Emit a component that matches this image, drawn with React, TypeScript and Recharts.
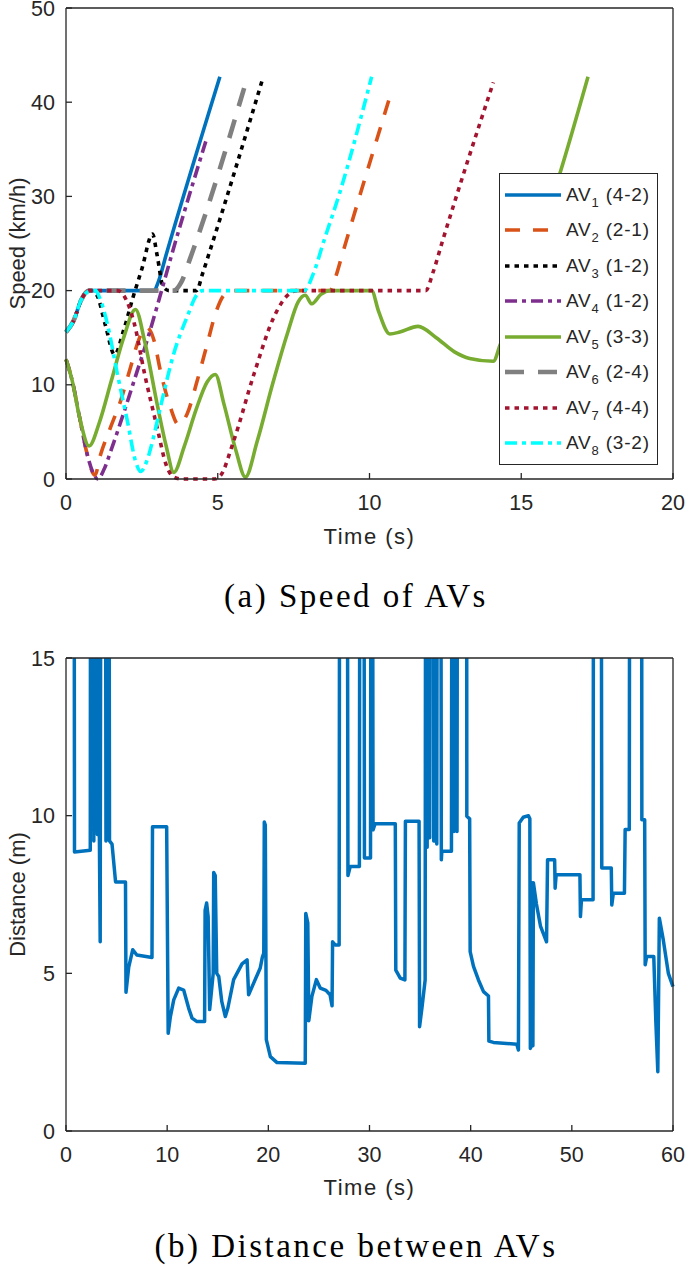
import { LineChart, Line, XAxis, YAxis, Legend, Label } from 'recharts';

// (a) speed of each AV, [time s, speed km/h]
const av1 = [[0, 15.6], [0.25, 16.8], [0.5, 19], [0.75, 20], [2.9, 20], [3.05, 21], [3.3, 23.8], [5.07, 42.7]];
const av2 = [[0, 12.7], [0.2, 10.5], [0.45, 6.5], [0.7, 2.6], [0.95, 0.4], [1.14, 2.6], [1.47, 5.5], [1.8, 8.3], [2.13, 11.9], [2.4, 14.8], [2.65, 16.1], [2.9, 14.7], [3.11, 11.5], [3.44, 7.6], [3.7, 5.8], [3.99, 6.9], [4.32, 10.4], [4.65, 14.3], [4.92, 17.5], [5.2, 19.5], [5.5, 20], [8.7, 20], [8.9, 21.6], [9.1, 23.8], [10.73, 41.2]];
const av3 = [[0, 15.6], [0.25, 16.8], [0.5, 19], [0.75, 20], [1.0, 19.6], [1.3, 16.3], [1.6, 13.2], [1.9, 15.8], [2.2, 19.2], [2.5, 22.3], [2.85, 26], [3.0, 23.8], [3.2, 20.4], [3.4, 20], [4.3, 20], [4.5, 21.8], [4.7, 23.8], [6.5, 42.7]];
const av4 = [[0, 12.7], [0.2, 10.5], [0.45, 6.5], [0.7, 2.6], [0.9, 0.6], [1.05, 0], [1.25, 1], [1.5, 3.2], [1.9, 7], [2.35, 11.5], [2.7, 15], [3.0, 18.3], [3.5, 24.0], [4.65, 36.3]];
const av5 = [[0, 12.7], [0.2, 10.5], [0.45, 6.5], [0.76, 3.5], [1.1, 6], [1.5, 10.5], [1.9, 15], [2.29, 18], [2.6, 14.5], [3.0, 8], [3.3, 3.5], [3.55, 0.7], [3.9, 3.5], [4.3, 7.5], [4.65, 10.3], [4.92, 11.1], [5.2, 8], [5.6, 3], [5.91, 0.2], [6.3, 4], [6.8, 10], [7.3, 15.5], [7.65, 18.8], [7.88, 19.5], [8.1, 18.6], [8.4, 19.6], [8.7, 20], [10.07, 20], [10.3, 17.8], [10.67, 15.4], [11.0, 15.6], [11.6, 16.2], [12.2, 15], [12.8, 13.5], [13.3, 12.8], [14.08, 12.5], [14.3, 14.2], [16.27, 32.4], [17.2, 42.7]];
const av6 = [[0, 15.6], [0.25, 16.8], [0.5, 19], [0.75, 20], [3.55, 20], [3.8, 20.9], [4.1, 23.5], [5.98, 42.7]];
const av7 = [[0, 15.6], [0.25, 16.8], [0.5, 19], [0.75, 20], [1.7, 20], [1.9, 19.5], [2.25, 16.5], [2.6, 11], [3.0, 5.5], [3.3, 1.5], [3.55, 0.2], [3.8, 0], [4.9, 0], [5.1, 0.4], [5.5, 3.8], [6.2, 11.2], [6.85, 17.2], [7.3, 19.5], [7.6, 20], [11.85, 20], [12.1, 22], [12.4, 25.2], [14.08, 42.1]];
const av8 = [[0, 15.6], [0.25, 16.8], [0.5, 19], [0.75, 19.9], [0.98, 20], [1.1, 19.3], [1.36, 16.5], [1.69, 11.2], [2.02, 6.2], [2.3, 1.8], [2.46, 0.8], [2.65, 1.8], [2.85, 4], [3.11, 7.6], [3.55, 13.3], [3.99, 17.2], [4.3, 19.5], [4.5, 20], [7.85, 20], [8.15, 21.8], [8.5, 25.3], [9.03, 30.5], [10.07, 42.7]];

const avIds = ['1', '2', '3', '4', '5', '6', '7', '8'];
const avRoutes = ['(4-2)', '(2-1)', '(1-2)', '(1-2)', '(3-3)', '(2-4)', '(4-4)', '(3-2)'];
const speedSeries = [av1, av2, av3, av4, av5, av6, av7, av8];

// (b) distance between AVs, [time s, distance m]; values above 15 run off the top
const distance = [
  [0.8, 22], [0.84, 8.85], [2.4, 8.9], [2.43, 22], [2.72, 22], [2.75, 9.2], [2.8, 22], [3.05, 22], [3.1, 9.4], [3.25, 9.55],
  [3.3, 9.3], [3.38, 6.0], [3.45, 22], [3.9, 22], [3.95, 9.2], [4.05, 9.3], [4.1, 22], [4.25, 22], [4.3, 9.2], [4.55, 9.1],
  [4.9, 7.9], [5.88, 7.9], [5.93, 4.4], [6.2, 5.2], [6.6, 5.75], [7.0, 5.58], [8.5, 5.5], [8.55, 9.65], [9.95, 9.65], [10.1, 3.1],
  [10.32, 3.63], [10.65, 4.16], [11.14, 4.53], [11.63, 4.47], [12.13, 3.89], [12.46, 3.58], [12.95, 3.47], [13.7, 3.47], [13.75, 7.0], [13.9, 7.23],
  [14.05, 6.8], [14.2, 3.85], [14.4, 4.5], [14.55, 5.0], [14.6, 8.2], [14.75, 8.1], [14.9, 5.0], [15.1, 4.9], [15.4, 4.1], [15.75, 3.63],
  [16.0, 3.9], [16.57, 4.8], [17.4, 5.3], [17.9, 5.43], [18.05, 4.32], [18.55, 4.69], [19.2, 5.17], [19.4, 5.5], [19.55, 5.64], [19.6, 9.8],
  [19.7, 9.7], [19.8, 2.9], [20.2, 2.36], [20.86, 2.17], [23.65, 2.15], [23.7, 6.9], [23.9, 6.6], [24.0, 3.5], [24.3, 4.26], [24.75, 4.8],
  [25.14, 4.53], [25.7, 4.46], [26.1, 4.32], [26.3, 3.97], [26.35, 6.0], [26.6, 5.9], [27.0, 5.9], [27.05, 22], [27.8, 22], [27.87, 8.1],
  [28.1, 8.39], [29.0, 8.39], [29.05, 22], [29.45, 22], [29.5, 8.66], [30.1, 8.66], [30.15, 22], [30.3, 22], [30.35, 9.55], [30.55, 9.74],
  [32.55, 9.74], [32.6, 5.1], [33.04, 4.85], [33.5, 4.79], [33.55, 9.82], [34.9, 9.82], [34.95, 3.31], [35.2, 3.95], [35.5, 4.79], [35.55, 22],
  [35.65, 22], [35.7, 9.0], [35.75, 22], [35.9, 22], [35.95, 9.3], [36.0, 22], [36.3, 22], [36.35, 9.2], [36.4, 22], [36.6, 22],
  [36.65, 9.1], [36.7, 22], [37.05, 22], [37.1, 8.6], [37.15, 8.87], [38.1, 8.87], [38.15, 22], [38.3, 22], [38.35, 9.5], [38.4, 22],
  [38.6, 22], [38.65, 9.5], [38.7, 22], [39.6, 22], [39.62, 9.98], [39.9, 9.9], [39.95, 5.69], [40.28, 5.22], [40.77, 4.79], [41.27, 4.42],
  [41.76, 4.28], [41.8, 2.85], [42.25, 2.81], [44.56, 2.75], [44.72, 2.57], [44.8, 9.77], [45.2, 9.95], [45.71, 10.0], [45.85, 9.9], [45.9, 2.62],
  [46.0, 2.7], [46.05, 7.87], [46.1, 7.5], [46.15, 2.7], [46.2, 7.87], [46.5, 7.2], [46.9, 6.5], [47.5, 6.0], [47.6, 8.6], [48.3, 8.6],
  [48.35, 7.7], [48.45, 8.13], [50.8, 8.13], [50.85, 6.8], [50.95, 7.33], [52.1, 7.33], [52.15, 22], [52.9, 22], [52.96, 8.34], [53.9, 8.34],
  [53.95, 7.17], [54.1, 7.54], [55.2, 7.54], [55.27, 9.56], [55.68, 9.56], [55.72, 22], [56.9, 22], [56.92, 9.87], [57.2, 9.87], [57.25, 5.27],
  [57.4, 5.53], [58.1, 5.53], [58.3, 3.5], [58.5, 1.88], [58.65, 6.75], [59.04, 6.06], [59.54, 5.0], [60, 4.58],
];

const speedTicksX = [0, 5, 10, 15, 20];
const speedTicksY = [0, 10, 20, 30, 40, 50];
const distTicksX = [0, 10, 20, 30, 40, 50, 60];
const distTicksY = [0, 5, 10, 15];

// MATLAB-ish line styles for each AV
const lineStyles = [
  { color: '#0072BD', width: 3.6, dash: undefined },
  { color: '#D95319', width: 3.6, dash: '15 13' },
  { color: '#000000', width: 3.6, dash: '4.5 5' },
  { color: '#7E2F8E', width: 3.6, dash: '12 5 4 5' },
  { color: '#77AC30', width: 3.6, dash: undefined },
  { color: '#808080', width: 4.6, dash: '19 14' },
  { color: '#A2142F', width: 3.6, dash: '4.5 5' },
  { color: '#00FFFF', width: 3.6, dash: '12 5 4 5' },
];

const sans = '"Liberation Sans", Arial, Helvetica, sans-serif';
const serif = '"Liberation Serif", "Times New Roman", serif';
const ink = '#262626';
const tickStyle = { fill: ink, fontSize: 21.5, fontFamily: sans };
const xLabelStyle = { fill: ink, fontSize: 22, fontFamily: sans, letterSpacing: 1.5 };
const yLabelStyle = { fill: ink, fontSize: 22, fontFamily: sans, textAnchor: 'middle' as const };

const toRows = (pts: number[][]) => pts.map(([t, v]) => ({ t, v }));

function SpeedLegend() {
  return (
    <div style={{ border: `1.3px solid ${ink}`, background: '#fff', padding: '3px 0', boxSizing: 'border-box', width: 159 }}>
      {avIds.map((id, i) => {
        const s = lineStyles[i];
        return (
          <div key={id} style={{ display: 'flex', alignItems: 'center', height: 35.5 }}>
            <svg width={62} height={12} style={{ flex: 'none' }}>
              <line x1={5} x2={61} y1={6} y2={6} stroke={s.color} strokeWidth={s.width} strokeDasharray={s.dash} />
            </svg>
            <span style={{ fontFamily: sans, fontSize: 19, letterSpacing: 0.8, color: ink, whiteSpace: 'nowrap', marginLeft: 4 }}>
              AV<span style={{ fontSize: 13, position: 'relative', top: 6 }}>{id}</span> {avRoutes[i]}
            </span>
          </div>
        );
      })}
    </div>
  );
}

const captionStyle = {
  position: 'absolute' as const, left: 0, width: 712, textAlign: 'center' as const,
  fontFamily: serif, fontSize: 33, letterSpacing: 2.5, color: '#000',
};

export default function App() {
  return (
    <div style={{ position: 'absolute', left: 0, top: 0, width: 685, height: 1266, background: '#fff' }}>
      <div style={{ position: 'absolute', left: 0, top: 0 }}>
        <LineChart width={685} height={560} margin={{ top: 7, right: 11, bottom: 0, left: 0 }}>
          <XAxis xAxisId="b" dataKey="t" type="number" domain={[0, 20]} ticks={speedTicksX} interval={0}
            tickSize={-6} tickMargin={22} height={81} stroke={ink} strokeWidth={1.3} tick={tickStyle}>
            <Label value="Time (s)" position="insideBottom" offset={16} style={xLabelStyle} />
          </XAxis>
          <XAxis xAxisId="top" orientation="top" type="number" domain={[0, 20]} ticks={speedTicksX} interval={0}
            tickSize={-6} height={1} stroke={ink} strokeWidth={1.3} tick={false} />
          <YAxis yAxisId="l" type="number" domain={[0, 50]} ticks={speedTicksY} interval={0}
            tickSize={-6} tickMargin={17} width={66} stroke={ink} strokeWidth={1.3} tick={tickStyle}>
            <Label value="Speed (km/h)" angle={-90} position="insideLeft" offset={17} style={yLabelStyle} />
          </YAxis>
          <YAxis yAxisId="r" orientation="right" type="number" domain={[0, 50]} ticks={speedTicksY} interval={0}
            tickSize={-6} width={1} stroke={ink} strokeWidth={1.3} tick={false} />
          {speedSeries.map((pts, i) => (
            <Line key={avIds[i]} xAxisId="b" yAxisId="l" data={toRows(pts)} dataKey="v" name={`AV${avIds[i]}`}
              type="monotone" stroke={lineStyles[i].color} strokeWidth={lineStyles[i].width}
              strokeDasharray={lineStyles[i].dash} dot={false} activeDot={false} isAnimationActive={false} />
          ))}
          <Legend content={() => <SpeedLegend />} layout="vertical" align="center" verticalAlign="middle"
            wrapperStyle={{ left: 499, top: 173, width: 159 }} />
        </LineChart>
      </div>
      <div style={{ ...captionStyle, top: 578 }}>(a) Speed of AVs</div>

      <div style={{ position: 'absolute', left: 0, top: 641 }}>
        <LineChart width={685} height={570} margin={{ top: 16, right: 11, bottom: 0, left: 0 }}>
          <XAxis xAxisId="b" dataKey="t" type="number" domain={[0, 60]} ticks={distTicksX} interval={0}
            tickSize={-6} tickMargin={22} height={80} stroke={ink} strokeWidth={1.3} tick={tickStyle}>
            <Label value="Time (s)" position="insideBottom" offset={16} style={xLabelStyle} />
          </XAxis>
          <XAxis xAxisId="top" orientation="top" type="number" domain={[0, 60]} ticks={distTicksX} interval={0}
            tickSize={-6} height={1} stroke={ink} strokeWidth={1.3} tick={false} />
          <YAxis yAxisId="l" type="number" domain={[0, 15]} ticks={distTicksY} interval={0} allowDataOverflow
            tickSize={-6} tickMargin={17} width={66} stroke={ink} strokeWidth={1.3} tick={tickStyle}>
            <Label value="Distance (m)" angle={-90} position="insideLeft" offset={17} style={yLabelStyle} />
          </YAxis>
          <YAxis yAxisId="r" orientation="right" type="number" domain={[0, 15]} ticks={distTicksY} interval={0}
            tickSize={-6} width={1} stroke={ink} strokeWidth={1.3} tick={false} />
          <Line xAxisId="b" yAxisId="l" data={toRows(distance)} dataKey="v" type="linear" stroke="#0072BD"
            strokeWidth={3.5} strokeLinejoin="round" dot={false} activeDot={false} isAnimationActive={false} />
        </LineChart>
      </div>
      <div style={{ ...captionStyle, top: 1228 }}>(b) Distance between AVs</div>
    </div>
  );
}
